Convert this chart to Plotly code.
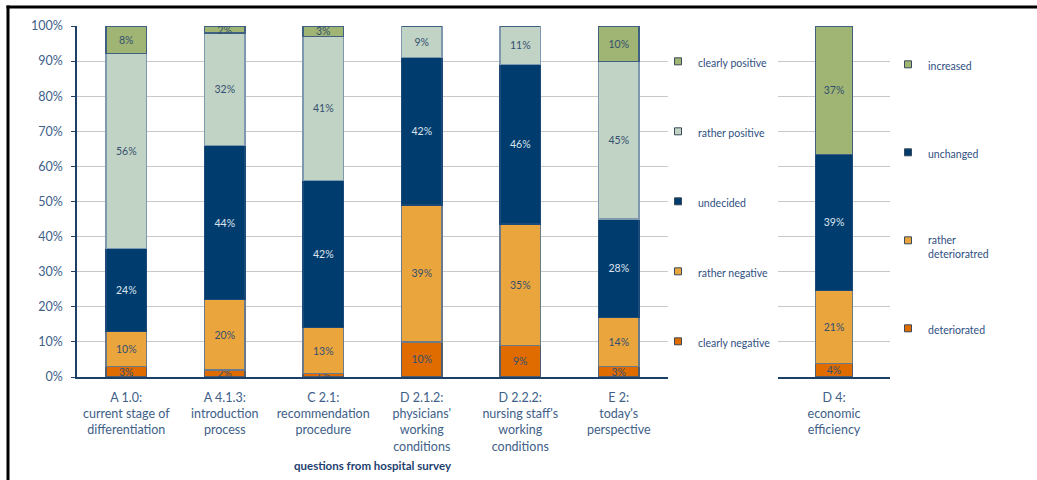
import plotly.graph_objects as go

# ---- data ----
categories = [
    "A 1.0:<br>current stage of<br>differentiation",
    "A 4.1.3:<br>introduction<br>process",
    "C 2.1:<br>recommendation<br>procedure",
    "D 2.1.2:<br>physicians'<br>working<br>conditions",
    "D 2.2.2:<br>nursing staff's<br>working<br>conditions",
    "E 2:<br>today's<br>perspective",
]
clearly_negative = [3, 2, 1, 10, 9, 3]
rather_negative = [10, 20, 13, 39, 35, 14]
undecided = [24, 44, 42, 42, 46, 28]
rather_positive = [56, 32, 41, 9, 11, 45]
clearly_positive = [8, 2, 3, 0, 0, 10]

d4_category = ["D 4:<br>economic<br>efficiency"]
deteriorated = [4]
rather_deteriorated = [21]
unchanged = [39]
increased = [37]

y_ticks = [0, 10, 20, 30, 40, 50, 60, 70, 80, 90, 100]
y_tick_labels = [f"{v}%" for v in y_ticks]

# ---- styling ----
FONT = "Lato"
C_DNEG = "#E06C00"
C_RNEG = "#EBA53D"
C_UND = "#003D6E"
C_RPOS = "#C1D3C4"
C_CPOS = "#A0B574"
TXT_DARK = "#34506F"
TXT_LIGHT = "#DCE4EE"
AXIS = "#1C3F66"
GRID = "#C8C8C8"
TICK_TXT = "#3E6089"
LEG_TXT = "#2F4F7F"

W, H = 1037, 480
ML, MR, MT, MB = 77, 147, 26, 103
PW = W - ML - MR
PH = H - MT - MB


def px_x(p):
    return (p - ML) / PW


def px_y(p):
    return 1 - (p - MT) / PH


fig = go.Figure()


def labels(vals):
    return [f"{v}%" if v else "" for v in vals]


main_series = [
    ("clearly negative", clearly_negative, C_DNEG, "#4F5E70", TXT_DARK),
    ("rather negative", rather_negative, C_RNEG, "#6A7A8A", TXT_DARK),
    ("undecided", undecided, C_UND, "#1C4A78", TXT_LIGHT),
    ("rather positive", rather_positive, C_RPOS, "#8098AE", TXT_DARK),
    ("clearly positive", clearly_positive, C_CPOS, "#3F6080", TXT_DARK),
]
for name, vals, col, lcol, tcol in main_series:
    fig.add_trace(go.Bar(
        x=categories, y=vals, name=name, marker=dict(color=col, line=dict(color=lcol, width=1.2)),
        text=labels(vals), textposition="inside", insidetextanchor="middle", textangle=0,
        constraintext="none", textfont=dict(family=FONT, size=10.5, color=tcol),
        width=0.41, showlegend=False, xaxis="x", yaxis="y", hoverinfo="x+name+text",
    ))

d4_series = [
    ("deteriorated", deteriorated, C_DNEG, "#4F5E70", TXT_DARK),
    ("rather<br>deterioratred", rather_deteriorated, C_RNEG, "#6A7A8A", TXT_DARK),
    ("unchanged", unchanged, C_UND, "#1C4A78", TXT_LIGHT),
    ("increased", increased, C_CPOS, "#3F6080", TXT_DARK),
]
for name, vals, col, lcol, tcol in d4_series:
    fig.add_trace(go.Bar(
        x=d4_category, y=vals, name=name, marker=dict(color=col, line=dict(color=lcol, width=1.2)),
        text=labels(vals), textposition="inside", insidetextanchor="middle", textangle=0,
        constraintext="none", textfont=dict(family=FONT, size=10.5, color=tcol),
        width=0.33, showlegend=False, xaxis="x2", yaxis="y2", hoverinfo="x+name+text",
    ))

# legend entries (small square keys)
for rank, (name, vals, col, lcol, tcol) in enumerate(reversed(main_series)):
    fig.add_trace(go.Scatter(
        x=[None], y=[None], mode="markers", name=name, legend="legend",
        legendgroup="m" + str(rank), legendrank=rank + 1,
        marker=dict(symbol="square", size=7, color=col, line=dict(color="#3A4A5A", width=1)),
        xaxis="x", yaxis="y",
    ))
for rank, (name, vals, col, lcol, tcol) in enumerate(reversed(d4_series)):
    fig.add_trace(go.Scatter(
        x=[None], y=[None], mode="markers", name=name,
        legend="legend3" if name == "deteriorated" else "legend2",
        legendgroup="d" + str(rank), legendrank=rank + 1,
        marker=dict(symbol="square", size=7, color=col, line=dict(color="#3A4A5A", width=1)),
        xaxis="x2", yaxis="y2",
    ))

yaxis_common = dict(
    range=[0, 100], tickvals=y_ticks, showgrid=True, gridcolor=GRID, gridwidth=1,
    zeroline=False, fixedrange=True,
)
legend_common = dict(
    xanchor="left", yanchor="top", traceorder="grouped", valign="top",
    font=dict(family=FONT, size=10.5, color=LEG_TXT),
    bgcolor="rgba(0,0,0,0)", itemclick=False, itemdoubleclick=False,
)
fr_l0, fr_l1 = px_x(6.5), px_x(9.5)
fr_t0, fr_t1 = px_y(5.5), px_y(8.5)
fig.update_layout(
    width=W, height=H,
    margin=dict(l=ML, r=MR, t=MT, b=MB, autoexpand=False),
    paper_bgcolor="white", plot_bgcolor="white",
    barmode="stack", barnorm="percent",
    font=dict(family=FONT, size=12, color=TICK_TXT),
    xaxis=dict(
        domain=[0, px_x(668)], range=[-0.5, 5.5], showline=True, linecolor=AXIS, linewidth=1.5,
        ticks="", ticklabelstandoff=8, tickfont=dict(family=FONT, size=12.5, color=TICK_TXT),
        title=dict(text="<b>questions from hospital survey</b>", standoff=9,
                   font=dict(family=FONT, size=11.5, color="#1F3F6F")),
        automargin=False,
    ),
    yaxis=dict(
        **yaxis_common, ticktext=y_tick_labels, showline=True, linecolor=AXIS, linewidth=1.5,
        ticks="outside", ticklen=4, tickcolor=AXIS, ticklabelstandoff=6,
        tickfont=dict(family=FONT, size=12.5, color=TICK_TXT), automargin=False,
    ),
    xaxis2=dict(
        domain=[px_x(778), 1], range=[-0.5, 0.5], anchor="y2", showline=True, linecolor=AXIS,
        linewidth=1.5, ticks="", ticklabelstandoff=8,
        tickfont=dict(family=FONT, size=12.5, color=TICK_TXT), automargin=False,
    ),
    yaxis2=dict(**yaxis_common, anchor="x2", showticklabels=False, showline=False, ticks=""),
    legend=dict(**legend_common, x=px_x(658), y=px_y(48), tracegroupgap=51),
    legend2=dict(**legend_common, x=px_x(888), y=px_y(51), tracegroupgap=69),
    legend3=dict(**legend_common, x=px_x(888), y=px_y(315), tracegroupgap=0),
    shapes=[
        dict(type="rect", xref="paper", yref="paper", x0=fr_l0, x1=px_x(W + 5),
             y0=fr_t1, y1=fr_t0, fillcolor="black", line=dict(width=0), layer="above"),
        dict(type="rect", xref="paper", yref="paper", x0=fr_l0, x1=fr_l1,
             y0=px_y(H + 5), y1=fr_t0, fillcolor="black", line=dict(width=0), layer="above"),
    ],
)

fig.write_html("out.html", config={"displayModeBar": False},
               post_script="document.body.style.margin='0';")
